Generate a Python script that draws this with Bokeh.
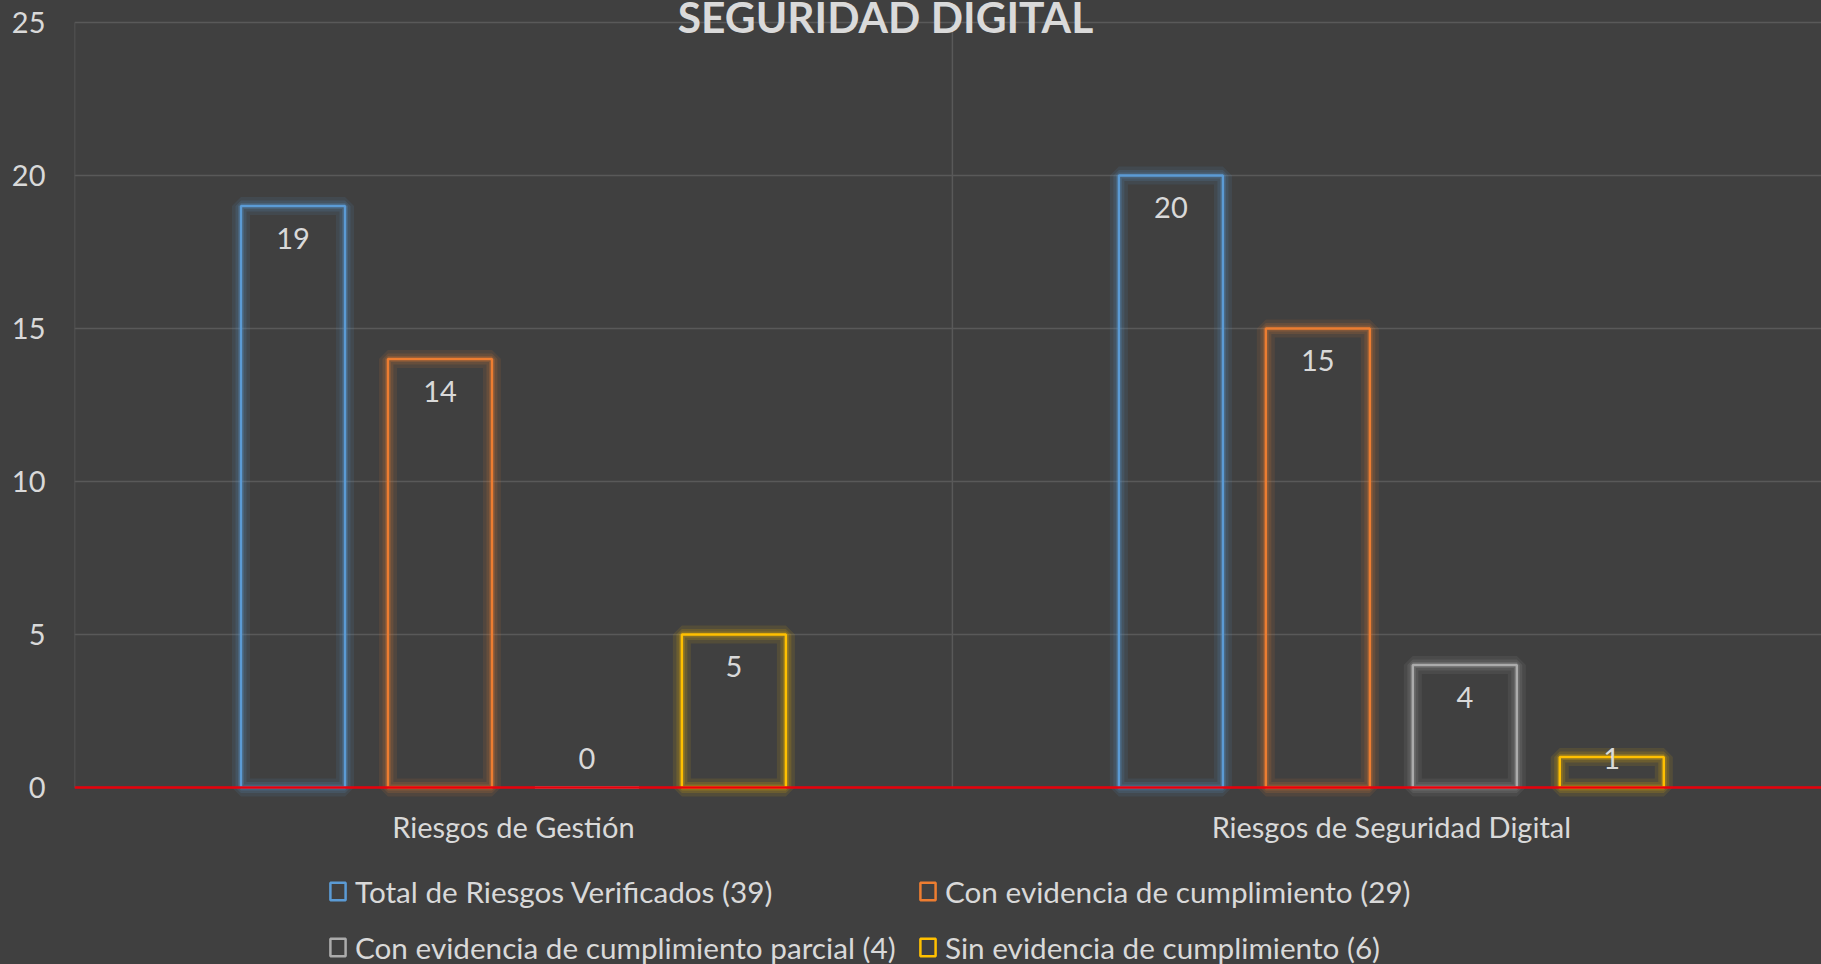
from bokeh.plotting import figure
from bokeh.models import Range1d, FixedTicker, Legend, LegendItem, Label, Span
from bokeh.core.properties import value
from bokeh.embed import file_html
from bokeh.resources import INLINE

# ---- data ----
categories = ["Riesgos de Gestión", "Riesgos de Seguridad Digital"]
series_names = [
    "Total de Riesgos Verificados (39)",
    "Con evidencia de cumplimiento (29)",
    "Con evidencia de cumplimiento parcial (4)",
    "Sin evidencia de cumplimiento (6)",
]
total_verificados = [19, 20]
con_evidencia = [14, 15]
con_evidencia_parcial = [0, 4]
sin_evidencia = [5, 1]
y_ticks = [0, 5, 10, 15, 20, 25]
title_text = "SEGURIDAD DIGITAL"

series_values = [total_verificados, con_evidencia, con_evidencia_parcial, sin_evidencia]
colors = ["#5B9BD5", "#ED7D31", "#ABABAB", "#FFC000"]

FONT = "Lato"
TXT = "#D9D9D9"
BG = "#404040"
GRID = "#595959"

# frame covers the whole canvas; 0 sits 787px from the top, 25 at 22px (30.6 px per unit)
p = figure(
    width=1821, height=964,
    x_range=Range1d(0, 1.99), y_range=Range1d(-5.784, 25.719),
    output_backend="svg", toolbar_location=None,
    x_axis_location=None,
    background_fill_color=BG, border_fill_color=BG,
    outline_line_color=None,
    min_border_left=74, min_border_right=0,
    min_border_top=0, min_border_bottom=0,
)
p.xgrid.visible = False

# horizontal grid
p.ygrid.ticker = FixedTicker(ticks=y_ticks)
p.ygrid.grid_line_color = GRID
p.ygrid.grid_line_width = 1.5

# vertical category separators
bounds = list(range(len(categories)))
p.segment(x0=bounds, x1=bounds, y0=[y_ticks[0]] * len(bounds), y1=[y_ticks[-1]] * len(bounds),
          line_color=GRID, line_width=1.5)

# y axis
p.yaxis.ticker = FixedTicker(ticks=y_ticks)
p.yaxis.axis_line_color = None
p.yaxis.major_tick_line_color = None
p.yaxis.minor_tick_line_color = None
p.yaxis.major_label_standoff = 23
p.yaxis.major_label_text_font = FONT
p.yaxis.major_label_text_font_size = "29px"
p.yaxis.major_label_text_color = TXT

# category labels
centers = [i + 0.5 for i in range(len(categories))]
p.text(x=centers, y=[0] * len(centers), text=categories, text_align="center",
       text_baseline="middle", y_offset=39, text_font=value(FONT),
       text_font_size="29px", text_color=TXT)

# bars
step = 0.1674
bar_w = 0.1185
legend_items = []
for j, (name, vals, col) in enumerate(zip(series_names, series_values, colors)):
    xs = [c + (j - 1.5) * step for c in centers]
    left = [x - bar_w / 2 for x in xs]
    right = [x + bar_w / 2 for x in xs]
    bottom = [0] * len(vals)
    glow_on = [0.0 if v == 0 else 1.0 for v in vals]
    # glow layers
    for gw, ga in ((18, 0.10), (11, 0.14), (6, 0.20)):
        p.quad(left=left, right=right, bottom=bottom, top=vals, fill_color=None,
               line_color=col, line_width=gw, line_alpha=[ga * a for a in glow_on])
    r = p.quad(left=left, right=right, bottom=bottom, top=vals, fill_color=None,
               line_color=col, line_width=2.5)
    legend_items.append(LegendItem(label=name, renderers=[r]))
    label_y = [max(v, 2.0) for v in vals]
    p.text(x=xs, y=label_y, text=[str(v) for v in vals], text_align="center",
           text_baseline="middle", y_offset=32, text_font=value(FONT),
           text_font_size="29px", text_color=TXT)

# red baseline (horizontal axis line)
p.add_layout(Span(location=0, dimension="width", line_color="#E8000B", line_width=2.5))

legend = Legend(
    items=legend_items, orientation="horizontal", ncols=2,
    location=(254, -2), glyph_width=19, glyph_height=22,
    label_standoff=8, spacing=18, padding=0, margin=0,
    label_width=545, label_height=38,
    background_fill_alpha=0, border_line_color=None,
    label_text_font=FONT, label_text_font_size="29.7px", label_text_color=TXT,
)
p.add_layout(legend)

title = Label(x=811, y=948, x_units="screen", y_units="screen", text=title_text,
              text_align="center", text_baseline="middle",
              text_font=FONT, text_font_style="bold", text_font_size="42.5px",
              text_color="#DADADA")
p.add_layout(title)

html = file_html(p, INLINE)
html = html.replace("<body>", '<body style="background-color:#404040;">')
open("out.html", "w").write(html)
